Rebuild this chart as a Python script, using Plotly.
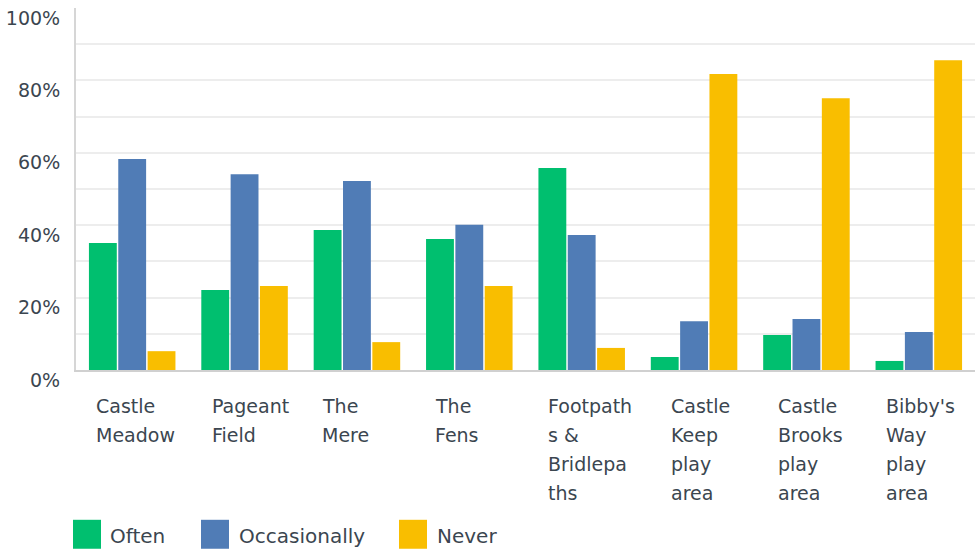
import plotly.graph_objects as go

categories = ["Castle Meadow", "Pageant Field", "The Mere", "The Fens",
              "Footpaths & Bridlepaths", "Castle Keep play area",
              "Castle Brooks play area", "Bibby's Way play area"]
category_lines = [["Castle", "Meadow"], ["Pageant", "Field"], ["The", "Mere"],
                  ["The", "Fens"], ["Footpath", "s &amp;", "Bridlepa", "ths"],
                  ["Castle", "Keep", "play", "area"], ["Castle", "Brooks", "play", "area"],
                  ["Bibby's", "Way", "play", "area"]]
often = [35.1, 22.1, 38.7, 36.2, 55.8, 3.6, 9.7, 2.5]
occasionally = [58.3, 54.1, 52.2, 40.1, 37.3, 13.5, 14.1, 10.5]
never = [5.2, 23.2, 7.7, 23.2, 6.1, 81.8, 75.1, 85.6]
series_names = ["Often", "Occasionally", "Never"]
y_ticks = [0, 20, 40, 60, 80, 100]
y_tick_labels = ["0%", "20%", "40%", "60%", "80%", "100%"]

colors = ["#00bf6f", "#507cb6", "#f9be00"]
text_color = "#3b4650"
FONT = "DejaVu Sans"

W, H = 975, 553
ML, MR, MT, MB = 76, 0, 7.5, 183
PW, PH = W - ML - MR, H - MT - MB

fig = go.Figure()
for name, vals, col in zip(series_names, [often, occasionally, never], colors):
    fig.add_trace(go.Bar(x=categories, y=vals, name=name, marker=dict(color=col, line=dict(width=0)),
                         hovertemplate="%{x}<br>" + name + ": %{y:.1f}%<extra></extra>"))

# category labels (left aligned, wrapped)
label_shift = [-38, -35, -37, -36, -36, -25, -30, -35]
annotations = []
for cat, lines, sh in zip(categories, category_lines, label_shift):
    for i, ln in enumerate(lines):
        annotations.append(dict(x=cat, xref="x", y=0, yref="paper", text=ln, showarrow=False,
                                xanchor="left", yanchor="middle", xshift=sh, yshift=-(36 + 29 * i),
                                font=dict(family=FONT, size=19, color=text_color)))

# custom legend
shapes = []
def px_to_paper(px, py):
    return (px - ML) / PW, (H - MB - py) / PH
legend_sq_x = [73, 201, 399]
legend_txt_x = [108, 237, 435]
for name, col, sx, tx in zip(series_names, colors, legend_sq_x, legend_txt_x):
    x0, y0 = px_to_paper(sx, 549)
    x1, y1 = px_to_paper(sx + 28, 520)
    shapes.append(dict(type="rect", xref="paper", yref="paper", x0=x0, x1=x1, y0=y0, y1=y1,
                       fillcolor=col, line=dict(width=0)))
    ax, ay = px_to_paper(tx, 536)
    annotations.append(dict(x=ax, y=ay, xref="paper", yref="paper", text=name, showarrow=False,
                            xanchor="left", yanchor="middle",
                            font=dict(family=FONT, size=20, color=text_color)))

fig.update_layout(
    width=W, height=H, margin=dict(l=ML, r=MR, t=MT, b=MB, autoexpand=False),
    paper_bgcolor="white", plot_bgcolor="white",
    barmode="group", bargap=0.217, bargroupgap=0.05,
    showlegend=False,
    annotations=annotations, shapes=shapes,
    font=dict(family=FONT, size=19, color=text_color),
)
fig.update_xaxes(showticklabels=False, showgrid=False, showline=True, linecolor="#d0d0d0",
                 linewidth=2, ticks="", fixedrange=True, automargin=False)
fig.update_yaxes(range=[0, 100], tickvals=y_ticks, ticktext=y_tick_labels, showgrid=True,
                 gridcolor="#ededed", gridwidth=2, zeroline=False,
                 minor=dict(dtick=10, tick0=0, showgrid=True, gridcolor="#ededed", gridwidth=2),
                 showline=True, linecolor="#d6d6d6", linewidth=2, ticks="",
                 ticklabelshift=10, ticklabelstandoff=10, automargin=False,
                 tickfont=dict(family=FONT, size=19, color=text_color))

fig.write_html("out.html", config={"displayModeBar": False},
               post_script="document.body.style.margin='0';document.body.style.padding='0';document.body.style.overflow='hidden';")
